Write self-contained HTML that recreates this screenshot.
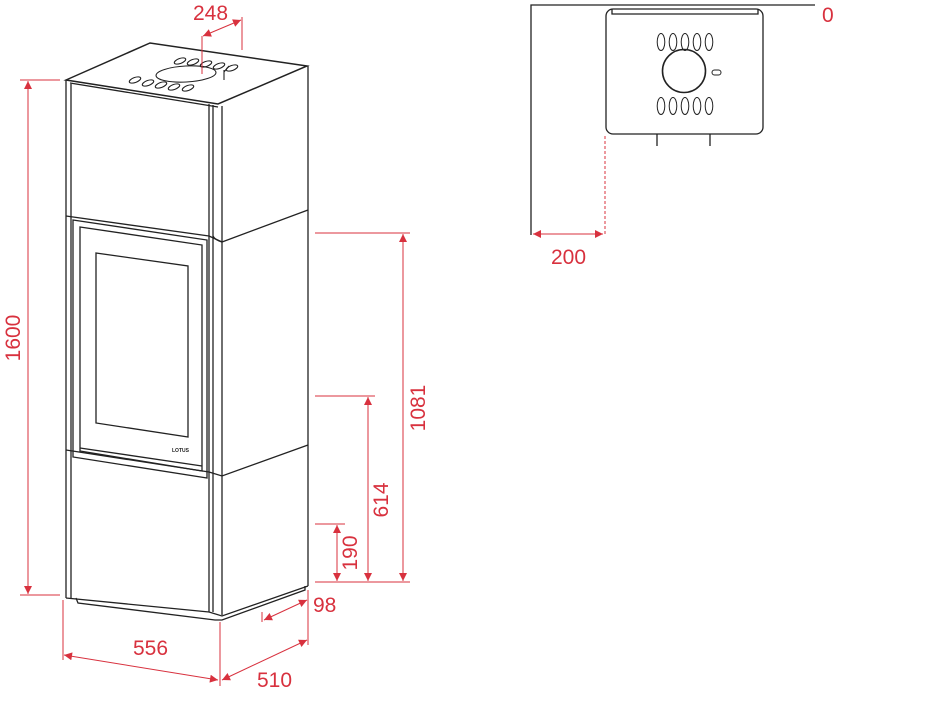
<!DOCTYPE html>
<html><head><style>html,body{margin:0;padding:0;background:#fff;}svg{display:block}</style></head>
<body>
<svg width="930" height="704" viewBox="0 0 930 704" xmlns="http://www.w3.org/2000/svg">
<defs>
<marker id="a" viewBox="0 0 10 10" refX="10" refY="5" markerWidth="13" markerHeight="8" orient="auto-start-reverse" markerUnits="userSpaceOnUse"><path d="M0,0 L10,5 L0,10 z" fill="#d8313e"/></marker>
</defs>
<g fill="none" stroke="#222" stroke-width="1.3">
<path d="M66,80 L150,43 L307,66 L218,104 Z" stroke-width="1.5"/>
<path d="M70,83 L218,107"/>
<path d="M66,80 L66,598"/><path d="M71,84 L71,598"/>
<path d="M209,104 L209,612"/><path d="M213,105 L213,612"/>
<path d="M222,106 L222,615"/>
<path d="M308,66 L308,586"/>
<path d="M66,216 L209,236"/><path d="M222,242 Q215,240 213,236"/>
<path d="M222,242 L308,210"/><path d="M209,236 L222,242"/>
<path d="M66,450 L209,472"/><path d="M209,472 L222,476 L308,445"/>
<path d="M73,220 L207,240 L207,478 L73,457 Z"/>
<path d="M80,227 L202,245 L202,471 L80,451 Z"/>
<path d="M96,253 L188,266 L188,437 L96,423 Z"/>
<path d="M80,448 L202,466"/>
<path d="M66,598 L209,612 L222,616 L308,586"/>
<path d="M76,598 L78,603 L215,620 L222,620 L305,590 L305,586"/>
</g>
<g fill="none" stroke="#222" stroke-width="1.1">
<ellipse cx="186" cy="74" rx="30" ry="8" transform="rotate(-3 186 74)"/>
<ellipse cx="135" cy="80" rx="6" ry="2.5" transform="rotate(-20 135 80)"/>
<ellipse cx="148" cy="83" rx="6" ry="2.5" transform="rotate(-20 148 83)"/>
<ellipse cx="161" cy="85" rx="6" ry="2.5" transform="rotate(-20 161 85)"/>
<ellipse cx="174" cy="87" rx="6" ry="2.5" transform="rotate(-20 174 87)"/>
<ellipse cx="188" cy="88" rx="6" ry="2.5" transform="rotate(-20 188 88)"/>
<ellipse cx="180" cy="61" rx="6" ry="2.5" transform="rotate(-20 180 61)"/>
<ellipse cx="193" cy="62" rx="6" ry="2.5" transform="rotate(-20 193 62)"/>
<ellipse cx="206" cy="64" rx="6" ry="2.5" transform="rotate(-20 206 64)"/>
<ellipse cx="219" cy="66" rx="6" ry="2.5" transform="rotate(-20 219 66)"/>
<ellipse cx="232" cy="68" rx="6" ry="2.5" transform="rotate(-20 232 68)"/>
<path d="M224,70 L224,80 M224,72 L229,66"/>
</g>
<text x="172" y="452" font-family="Liberation Sans, sans-serif" font-size="5" font-weight="bold" fill="#222">LOTUS</text>
<g fill="none" stroke="#222" stroke-width="1.3">
<path d="M531,235 L531,5 L815,5"/>
<rect x="606" y="9" width="157" height="125" rx="7"/>
<path d="M612,9 L612,14 L758,14 L758,9"/>
<circle cx="684" cy="71" r="21.5" stroke-width="1.6"/>
<path d="M657,134 L657,146 M710,134 L710,146"/>
</g>
<g fill="none" stroke="#222" stroke-width="1">
<ellipse cx="661" cy="42" rx="3.8" ry="8.5"/><ellipse cx="673" cy="42" rx="3.8" ry="8.5"/><ellipse cx="685" cy="42" rx="3.8" ry="8.5"/><ellipse cx="697" cy="42" rx="3.8" ry="8.5"/><ellipse cx="709" cy="42" rx="3.8" ry="8.5"/>
<ellipse cx="661" cy="106" rx="3.8" ry="8.5"/><ellipse cx="673" cy="106" rx="3.8" ry="8.5"/><ellipse cx="685" cy="106" rx="3.8" ry="8.5"/><ellipse cx="697" cy="106" rx="3.8" ry="8.5"/><ellipse cx="709" cy="106" rx="3.8" ry="8.5"/>
<rect x="712" y="70" width="9" height="5" rx="2.5"/>
</g>
<g stroke="#d8313e" stroke-width="1" fill="none">
<path d="M605,136 L605,235" stroke-dasharray="3,2"/>
<path d="M533,234 L603,234" marker-start="url(#a)" marker-end="url(#a)"/>
<path d="M20,80 L60,80 M20,595 L60,595"/>
<path d="M28,81 L28,594" marker-start="url(#a)" marker-end="url(#a)"/>
<path d="M315,233 L410,233 M315,396 L375,396 M315,524 L345,524 M315,582 L410,582"/>
<path d="M403,234 L403,581" marker-start="url(#a)" marker-end="url(#a)"/>
<path d="M368,397 L368,581" marker-start="url(#a)" marker-end="url(#a)"/>
<path d="M337,525 L337,581" marker-start="url(#a)" marker-end="url(#a)"/>
<path d="M308,590 L308,645 M262,612 L262,622 M63,600 L63,660 M220,622 L220,686"/>
<path d="M264,620 L307,600" marker-start="url(#a)" marker-end="url(#a)"/>
<path d="M64,655 L218,680" marker-start="url(#a)" marker-end="url(#a)"/>
<path d="M222,680 L307,640" marker-start="url(#a)" marker-end="url(#a)"/>
<path d="M202,36 L202,74 M242,17 L242,50"/>
<path d="M203,36 L241,20" marker-start="url(#a)" marker-end="url(#a)"/>
</g>
<g fill="#d8313e" font-family="Liberation Sans, sans-serif" font-size="21">
<text x="193" y="20">248</text>
<text x="822" y="22">0</text>
<text x="551" y="264">200</text>
<text x="313" y="612">98</text>
<text x="133" y="655">556</text>
<text x="257" y="687">510</text>
<text transform="translate(20,338) rotate(-90)" text-anchor="middle">1600</text>
<text transform="translate(425,408) rotate(-90)" text-anchor="middle">1081</text>
<text transform="translate(388,500) rotate(-90)" text-anchor="middle">614</text>
<text transform="translate(357,553) rotate(-90)" text-anchor="middle">190</text>
</g>
</svg>
</body></html>
